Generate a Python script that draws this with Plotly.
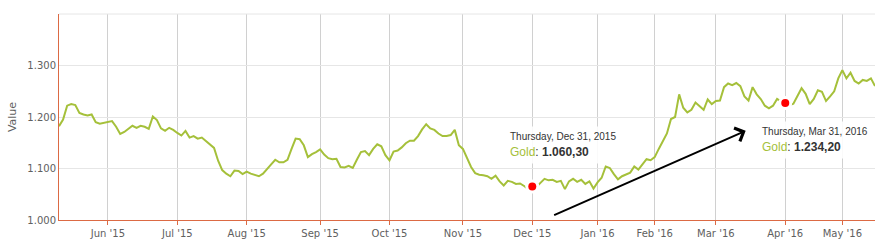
import numpy as np
import pandas as pd
import plotly.graph_objects as go

# ---- data (gold price) ----
months = ["2015-05", "2015-06", "2015-07", "2015-08", "2015-09", "2015-10", "2015-11",
          "2015-12", "2016-01", "2016-02", "2016-03", "2016-04", "2016-05"]
month_first_day = ["2015-05-12", "2015-06-01", "2015-07-01", "2015-08-03", "2015-09-01", "2015-10-01",
                   "2015-11-02", "2015-12-01", "2016-01-04", "2016-02-01", "2016-03-01", "2016-04-01", "2016-05-02"]
month_last_day = ["2015-05-29", "2015-06-30", "2015-07-31", "2015-08-31", "2015-09-30", "2015-10-30",
                  "2015-11-30", "2015-12-31", "2016-01-29", "2016-02-29", "2016-03-31", "2016-04-29", "2016-05-13"]

may15 = [1182, 1195, 1222, 1225, 1223, 1208, 1205, 1203, 1205, 1190, 1187, 1189]
jun15 = [1190, 1192, 1181, 1167, 1171, 1177, 1183, 1179, 1183, 1181, 1177, 1201, 1194, 1178, 1173, 1179, 1175]
jul15 = [1169, 1164, 1173, 1160, 1163, 1158, 1160, 1153, 1147, 1140, 1115, 1097, 1090, 1085, 1096, 1095, 1089]
aug15 = [1094, 1090, 1087, 1085, 1090, 1098, 1108, 1117, 1112, 1112, 1117, 1138, 1158, 1157, 1145, 1122, 1128, 1132]
sep15 = [1137, 1127, 1120, 1118, 1119, 1103, 1102, 1105, 1101, 1117, 1132, 1134, 1126, 1138, 1147, 1143, 1126]
oct15 = [1116, 1133, 1135, 1141, 1149, 1154, 1154, 1163, 1176, 1186, 1178, 1175, 1168, 1163, 1163, 1165, 1175, 1145]
nov15 = [1138, 1121, 1103, 1091, 1088, 1087, 1085, 1080, 1086, 1075, 1067, 1076, 1074, 1070, 1071, 1066, 1060]
dec15 = [1065, 1064, 1072, 1080, 1077, 1078, 1074, 1076, 1060, 1075, 1080, 1074, 1078, 1070, 1075, 1061]
jan16 = [1073, 1082, 1104, 1101, 1089, 1079, 1085, 1088, 1092, 1104, 1098, 1108, 1118, 1116]
feb16 = [1122, 1138, 1154, 1168, 1196, 1200, 1244, 1218, 1209, 1214, 1228, 1221, 1214, 1234, 1225]
mar16 = [1231, 1232, 1258, 1265, 1262, 1266, 1260, 1240, 1232, 1258, 1244, 1235, 1222, 1217, 1222, 1235, 1230]
apr16 = [1227, 1223, 1226, 1240, 1256, 1245, 1225, 1235, 1252, 1249, 1231, 1240, 1250, 1275]
may16 = [1291, 1275, 1286, 1270, 1265, 1272, 1270, 1275, 1260]
month_values = [may15, jun15, jul15, aug15, sep15, oct15, nov15, dec15, jan16, feb16, mar16, apr16, may16]

tick_labels = ["Jun '15", "Jul '15", "Aug '15", "Sep '15", "Oct '15", "Nov '15", "Dec '15",
               "Jan '16", "Feb '16", "Mar '16", "Apr '16", "May '16"]
y_tick_values = [1000, 1100, 1200, 1300]

highlight_months = ["2015-12", "2016-04"]
tooltip_headers = ["Thursday, Dec 31, 2015", "Thursday, Mar 31, 2016"]
tooltip_values = ["1.060,30", "1.234,20"]
series_name = "Gold"

# ---- build ordinal (trading-day) categories ----
dates, values, month_first_cat = [], [], {}
for m, d0, d1, vals in zip(months, month_first_day, month_last_day, month_values):
    bd = pd.bdate_range(d0, d1)
    idx = np.round(np.linspace(0, len(bd) - 1, len(vals))).astype(int)
    cats = [bd[k].strftime("%Y-%m-%d") for k in idx]
    month_first_cat[m] = cats[0]
    dates += cats
    values += vals

tick_vals = [month_first_cat[m] for m in months[1:]]
hl_x = [month_first_cat[m] for m in highlight_months]
hl_y = [values[dates.index(x)] for x in hl_x]

LINE = "#a5c03a"
AXIS = "#dc6a44"
FONT = "DejaVu Sans"

fig = go.Figure()
fig.add_trace(go.Scatter(x=dates, y=values, mode="lines", name=series_name,
                         line=dict(color=LINE, width=2), hoverinfo="skip"))
fig.add_trace(go.Scatter(x=hl_x, y=hl_y, mode="markers",
                         marker=dict(color="white", size=14), hoverinfo="skip"))
fig.add_trace(go.Scatter(x=hl_x, y=hl_y, mode="markers",
                         marker=dict(color="#ff0000", size=8), hoverinfo="skip"))

# tooltips
tip_pos = [(0.547, 0.457), (0.855, 0.481)]
for (px, py), h, v in zip(tip_pos, tooltip_headers, tooltip_values):
    fig.add_annotation(
        xref="paper", yref="paper", x=px, y=py, xanchor="left", yanchor="top",
        text=(f"<span style='font-size:10px;color:#333333'>{h}</span><br>"
              f"<span style='color:{LINE}'>{series_name}</span>"
              f"<span style='color:#333333'>: <b>{v}</b></span>"),
        align="left", showarrow=False, bgcolor="rgba(255,255,255,0.88)", borderpad=4,
        font=dict(family="Liberation Sans, Arial", size=12, color="#333333"))

# arrow
fig.add_annotation(xref="paper", yref="paper", x=0.8415, y=0.4327, ax=-193, ay=85,
                   axref="pixel", ayref="pixel", text="", showarrow=True,
                   arrowhead=4, arrowsize=1.4, arrowwidth=2, arrowcolor="#000000")

# top grid line (1.400)
fig.add_shape(type="line", xref="paper", yref="paper", x0=0, x1=1, y0=1, y1=1,
              line=dict(color="#e6e6e6", width=1))

fig.update_layout(
    width=888, height=251, margin=dict(l=55, r=13, t=14, b=29),
    paper_bgcolor="white", plot_bgcolor="white", showlegend=False,
    separators=",.",
    font=dict(family=FONT, size=10, color="#606060"),
    xaxis=dict(type="category", range=[0, len(dates) - 1], tickmode="array",
               tickvals=tick_vals, ticktext=tick_labels, showgrid=True,
               gridcolor="#d0d0d0", gridwidth=1, showline=True, linecolor=AXIS,
               linewidth=1, ticks="outside", ticklen=4, tickcolor=AXIS,
               tickfont=dict(family=FONT, size=10, color="#606060"), zeroline=False),
    yaxis=dict(range=[1000, 1400], tickmode="array", tickvals=y_tick_values,
               tickformat=",.0f", showgrid=True, gridcolor="#e6e6e6", gridwidth=1,
               showline=True, linecolor=AXIS, linewidth=1, ticks="", zeroline=False,
               tickfont=dict(family=FONT, size=10, color="#606060"),
               title=dict(text="Value", font=dict(family=FONT, size=11, color="#606060"),
                          standoff=8)),
)

fig.write_html("out.html")
